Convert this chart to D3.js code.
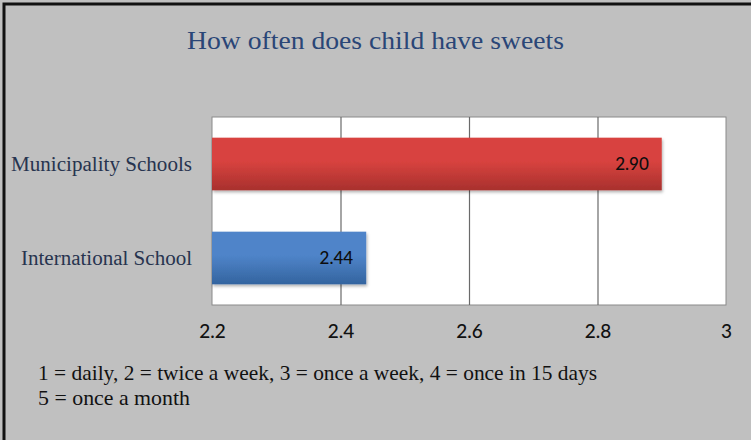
<!DOCTYPE html>
<html>
<head>
<meta charset="utf-8">
<script src="https://cdn.jsdelivr.net/npm/d3@7"></script>
<style>
  html, body { margin: 0; padding: 0; background: #c0c0c0; }
  svg { display: block; }
</style>
</head>
<body>
<div id="chart"></div>
<script>
// Survey answers: mean frequency score per school type
const categories = ["Municipality Schools", "International School"];
const values = [2.90, 2.44];
const valueLabels = ["2.90", "2.44"];
const tickValues = [2.2, 2.4, 2.6, 2.8, 3.0];
const tickLabels = ["2.2", "2.4", "2.6", "2.8", "3"];
const titleText = "How often does child have sweets";
const noteLines = [
  "1 = daily, 2 = twice a week, 3 = once a week, 4 = once in 15 days",
  "5 = once a month"
];
const barColors = [["#d8433f", "#a8302d"], ["#4f84c9", "#33649f"]];

const W = 751, H = 440;
const plot = { left: 212, right: 726, top: 117, bottom: 305 };
const serif = "'Liberation Serif', 'Times New Roman', serif";
const sans = "Lato, 'Open Sans', sans-serif";

const svg = d3.select("#chart").append("svg")
  .attr("width", W).attr("height", H);

// Background and the dark frame on the top and left edges
svg.append("rect").attr("width", W).attr("height", H).attr("fill", "#c0c0c0");
svg.append("path").attr("d", `M4,${H} V4 H${W}`)
  .attr("fill", "none").attr("stroke", "#111").attr("stroke-width", 3);

const defs = svg.append("defs");
barColors.forEach((c, i) => {
  const g = defs.append("linearGradient").attr("id", "bar" + i)
    .attr("x1", 0).attr("y1", 0).attr("x2", 0).attr("y2", 1);
  g.append("stop").attr("offset", "0%").attr("stop-color", c[0]);
  g.append("stop").attr("offset", "45%").attr("stop-color", c[0]);
  g.append("stop").attr("offset", "100%").attr("stop-color", c[1]);
});
const shadow = defs.append("filter").attr("id", "shadow")
  .attr("x", "-5%").attr("y", "-20%").attr("width", "110%").attr("height", "150%");
shadow.append("feDropShadow").attr("dx", 1).attr("dy", 2).attr("stdDeviation", 1.5)
  .attr("flood-color", "#000").attr("flood-opacity", 0.3);

const x = d3.scaleLinear().domain([2.2, 3.0]).range([plot.left, plot.right]);
const y = d3.scaleBand().domain(categories).range([plot.top, plot.bottom])
  .paddingInner(0.44).paddingOuter(0.22);

// Plot area
svg.append("rect")
  .attr("x", plot.left).attr("y", plot.top)
  .attr("width", plot.right - plot.left).attr("height", plot.bottom - plot.top)
  .attr("fill", "#ffffff").attr("stroke", "#8a8a8a").attr("stroke-width", 1);

// Vertical gridlines
svg.append("g")
  .attr("transform", `translate(0,${plot.top})`)
  .call(d3.axisBottom(x).tickValues(tickValues.slice(1, -1))
    .tickSize(plot.bottom - plot.top).tickFormat(""))
  .call(g => g.select(".domain").remove())
  .call(g => g.selectAll("line").attr("stroke", "#6a6a6a").attr("stroke-width", 1.2));

// Bars
svg.append("g").selectAll("rect")
  .data(values)
  .join("rect")
  .attr("x", x(2.2))
  .attr("y", (d, i) => y(categories[i]))
  .attr("width", d => x(d) - x(2.2))
  .attr("height", y.bandwidth())
  .attr("fill", (d, i) => `url(#bar${i})`)
  .attr("filter", "url(#shadow)");

// Value labels inside the bar ends
svg.append("g").selectAll("text")
  .data(values)
  .join("text")
  .attr("x", d => x(d) - 13)
  .attr("y", (d, i) => y(categories[i]) + y.bandwidth() / 2)
  .attr("dy", "0.36em")
  .attr("text-anchor", "end")
  .attr("font-family", sans)
  .attr("font-size", 17)
  .attr("font-weight", 500)
  .attr("fill", "#0d0d0d")
  .text((d, i) => valueLabels[i]);

// Category axis labels
svg.append("g")
  .attr("transform", `translate(${plot.left},0)`)
  .call(d3.axisLeft(y).tickSize(0).tickPadding(20))
  .call(g => g.select(".domain").remove())
  .call(g => g.selectAll("text")
    .attr("font-family", serif)
    .attr("font-size", 20.5)
    .attr("fill", "#27344f")
    .attr("textLength", (d, i) => [181, 171][i])
    .attr("lengthAdjust", "spacingAndGlyphs"));

// Value axis labels
svg.append("g")
  .attr("transform", `translate(0,${plot.bottom})`)
  .call(d3.axisBottom(x).tickValues(tickValues).tickSize(0).tickPadding(20)
    .tickFormat((d, i) => tickLabels[i]))
  .call(g => g.select(".domain").remove())
  .call(g => g.selectAll("text")
    .attr("font-family", sans)
    .attr("font-size", 19)
    .attr("font-weight", 500)
    .attr("fill", "#111"));

// Title
svg.append("text")
  .attr("x", 187).attr("y", 49)
  .attr("font-family", serif)
  .attr("font-size", 26)
  .attr("fill", "#2a4677")
  .attr("textLength", 377)
  .attr("lengthAdjust", "spacingAndGlyphs")
  .text(titleText);

// Scale legend note
svg.append("g").selectAll("text")
  .data(noteLines)
  .join("text")
  .attr("x", 38)
  .attr("y", (d, i) => 380 + i * 24.5)
  .attr("font-family", serif)
  .attr("font-size", 21)
  .attr("fill", "#111")
  .attr("textLength", (d, i) => [559, 152][i])
  .attr("lengthAdjust", "spacingAndGlyphs")
  .text(d => d);
</script>
</body>
</html>
